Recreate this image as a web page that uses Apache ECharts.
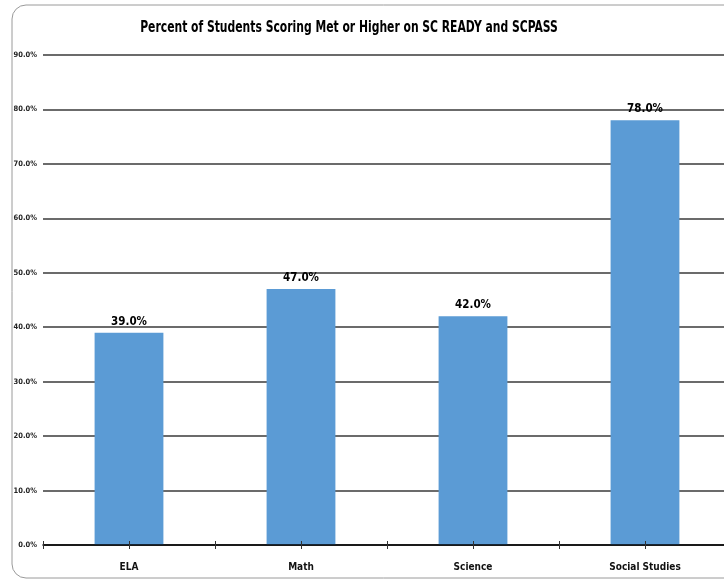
<!DOCTYPE html>
<html>
<head>
<meta charset="utf-8">
<script src="https://cdn.jsdelivr.net/npm/echarts@6/dist/echarts.min.js"></script>
<style>
html,body{margin:0;padding:0;background:#fff;overflow:hidden;width:724px;height:580px;}
#c{width:740px;height:580px;}
</style>
</head>
<body>
<div id="c"></div>
<script>
const titleText = 'Percent of Students Scoring Met or Higher on SC READY and SCPASS';
const categories = ['ELA', 'Math', 'Science', 'Social Studies'];
const values = [39.0, 47.0, 42.0, 78.0];
const yTicks = [0, 10, 20, 30, 40, 50, 60, 70, 80, 90];

const FONT = '"DejaVu Sans Condensed", "Liberation Sans Narrow", sans-serif';
const chart = echarts.init(document.getElementById('c'));

const gridRect = {left: 43, top: 55, width: 688, height: 490, containLabel: false};

function tickAxis(idx, align) {
  return {
    type: 'category',
    data: categories,
    gridIndex: idx,
    position: 'bottom',
    offset: -4,
    z: 10,
    axisLine: {show: false},
    axisTick: {show: true, alignWithLabel: align, inside: false, length: 8, lineStyle: {color: '#333', width: 1}},
    axisLabel: {show: false},
    splitLine: {show: false}
  };
}
function hiddenY(idx) {
  return {type: 'value', gridIndex: idx, min: 0, max: 90, show: false, splitLine: {show: false}};
}

chart.setOption({
  animation: false,
  backgroundColor: '#fff',
  graphic: [{
    type: 'rect',
    shape: {x: 12, y: 5, width: 760, height: 573, r: 14},
    style: {fill: 'none', stroke: '#9a9a9a', lineWidth: 1},
    silent: true,
    z: -10
  }, {
    type: 'text',
    x: 349,
    y: 28,
    scaleX: 0.8,
    style: {
      text: titleText,
      x: 0, y: 0,
      align: 'center',
      verticalAlign: 'middle',
      font: 'bold 15px ' + FONT,
      fill: '#000'
    },
    silent: true
  }],
  grid: [Object.assign({}, gridRect), Object.assign({}, gridRect), Object.assign({}, gridRect)],
  xAxis: [
    {
      type: 'category',
      data: categories,
      gridIndex: 0,
      position: 'bottom',
      z: 5,
      axisLine: {show: true, lineStyle: {color: '#000', width: 1.5}},
      axisTick: {show: false},
      axisLabel: {show: true, margin: 17, fontFamily: FONT, fontWeight: 'bold', fontSize: 10, color: '#111'},
      splitLine: {show: false}
    },
    tickAxis(1, false),
    tickAxis(2, true)
  ],
  yAxis: [{
    type: 'value',
    gridIndex: 0,
    min: 0,
    max: 90,
    interval: 10,
    axisLine: {show: false},
    axisTick: {show: false},
    axisLabel: {
      margin: 6,
      fontFamily: FONT,
      fontWeight: 'bold',
      fontSize: 7.5,
      color: '#222',
      formatter: v => yTicks.includes(v) ? v.toFixed(1) + '%' : ''
    },
    splitLine: {show: true, lineStyle: {color: '#3a3a3a', width: 1.5}}
  }, hiddenY(1), hiddenY(2)],
  series: [{
    type: 'bar',
    data: values,
    xAxisIndex: 0,
    yAxisIndex: 0,
    barWidth: '40%',
    itemStyle: {color: '#5B9BD5'},
    z: 1,
    label: {
      show: true,
      position: 'top',
      distance: 5,
      formatter: p => p.value.toFixed(1) + '%',
      fontFamily: FONT,
      fontWeight: 'bold',
      fontSize: 11.5,
      color: '#000'
    }
  }]
});
</script>
</body>
</html>
